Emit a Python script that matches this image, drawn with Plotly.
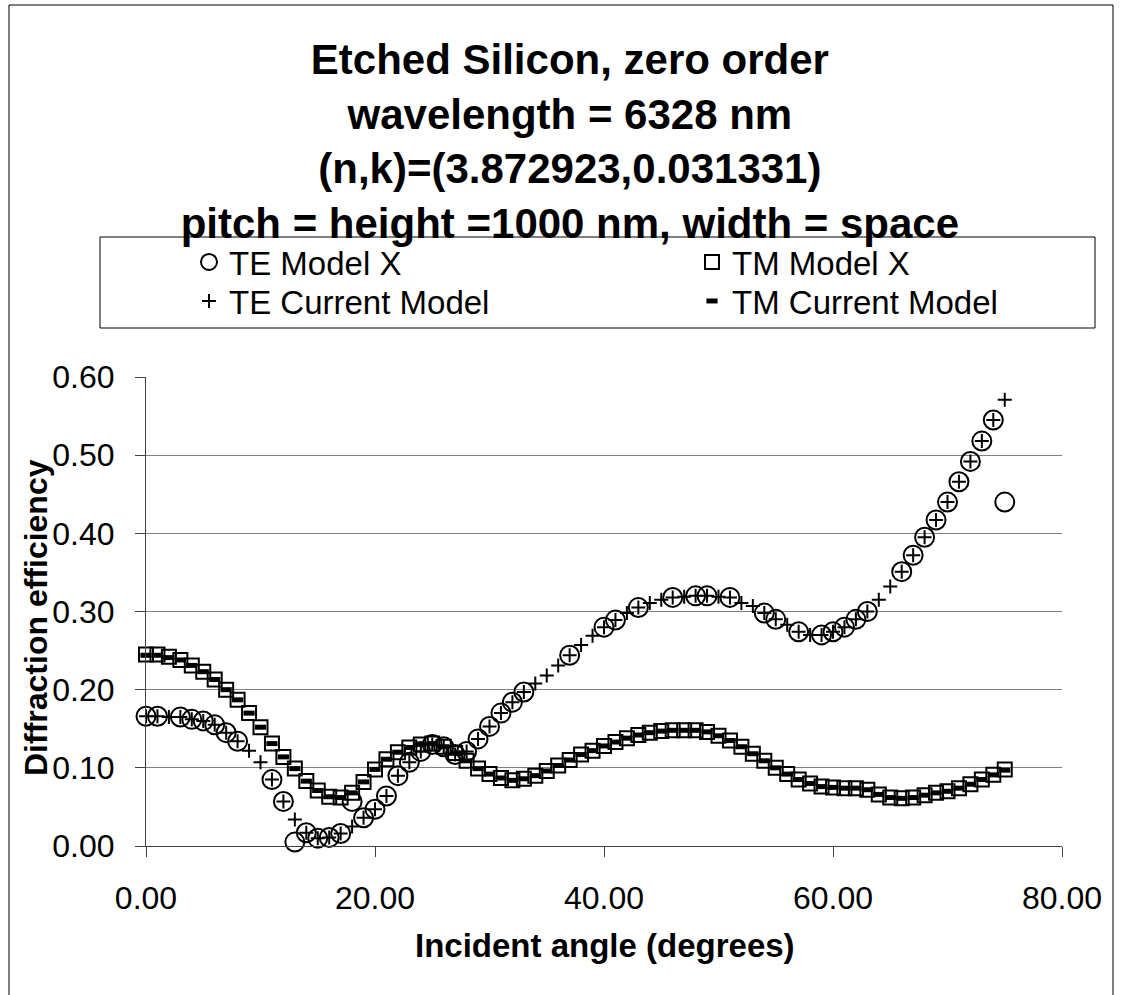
import plotly.graph_objects as go

# ---------------- data ----------------
angles = [0, 1, 2, 3, 4, 5, 6, 7, 8, 9, 10, 11, 12, 13, 14, 15, 16, 17, 18, 19,
          20, 21, 22, 23, 24, 25, 26, 27, 28, 29, 30, 31, 32, 33, 34, 35, 36, 37, 38, 39,
          40, 41, 42, 43, 44, 45, 46, 47, 48, 49, 50, 51, 52, 53, 54, 55, 56, 57, 58, 59,
          60, 61, 62, 63, 64, 65, 66, 67, 68, 69, 70, 71, 72, 73, 74, 75]

te_model_x = [0.166, 0.166, None, 0.165, 0.162, 0.160, 0.155, 0.145, 0.134, None,
              None, 0.085, 0.057, 0.005, 0.017, 0.010, 0.011, 0.016, 0.057, 0.036,
              0.047, 0.064, 0.090, 0.107, 0.121, 0.130, 0.127, 0.117, 0.121, 0.137,
              0.153, 0.170, 0.184, 0.197, None, None, None, 0.244, None, None,
              0.280, 0.289, None, 0.305, None, None, 0.318, None, 0.320, 0.320,
              None, 0.318, None, None, 0.298, 0.290, None, 0.274, None, 0.270,
              0.274, 0.280, 0.290, 0.300, None, None, 0.351, 0.372, 0.395, 0.417,
              0.440, 0.466, 0.492, 0.518, 0.545, 0.440]

te_current = [0.166, 0.166, 0.165, 0.165, 0.162, 0.160, 0.155, 0.145, 0.134, 0.122,
              0.107, 0.085, 0.057, 0.034, 0.017, 0.010, 0.011, 0.016, 0.025, 0.036,
              0.047, 0.064, 0.090, 0.107, 0.121, 0.130, 0.127, 0.117, 0.121, 0.137,
              0.153, 0.170, 0.184, 0.197, 0.208, 0.218, 0.231, 0.244, 0.257, 0.269,
              0.280, 0.289, 0.298, 0.305, 0.311, 0.315, 0.318, 0.319, 0.320, 0.320,
              0.319, 0.318, 0.311, 0.307, 0.298, 0.290, 0.283, 0.274, 0.270, 0.270,
              0.274, 0.280, 0.290, 0.300, 0.315, 0.332, 0.351, 0.372, 0.395, 0.417,
              0.440, 0.466, 0.492, 0.518, 0.545, 0.571]

tm_model_x = [0.245, 0.245, 0.242, 0.238, 0.231, 0.223, 0.213, 0.200, 0.187, 0.170,
              0.152, 0.131, 0.114, 0.099, 0.083, 0.071, 0.063, 0.062, 0.068, 0.082,
              0.098, 0.111, 0.120, 0.126, 0.130, 0.131, 0.127, 0.119, 0.109, 0.099,
              0.092, 0.087, 0.084, 0.086, 0.090, 0.096, 0.103, 0.110, 0.117, 0.122,
              0.128, 0.133, 0.138, 0.142, 0.145, 0.147, 0.148, 0.148, 0.148, 0.146,
              0.141, 0.135, 0.127, 0.118, 0.109, 0.100, 0.092, 0.085, 0.080, 0.076,
              0.075, 0.074, 0.074, 0.072, 0.066, 0.062, 0.061, 0.062, 0.065, 0.068,
              0.070, 0.074, 0.079, 0.085, 0.091, 0.098]

tm_current = [0.244, 0.244, 0.241, 0.238, 0.231, 0.223, 0.213, 0.200, 0.187, 0.170,
              0.152, 0.131, 0.114, 0.099, 0.083, 0.071, 0.063, 0.062, 0.068, 0.082,
              0.098, 0.111, 0.120, 0.126, 0.130, 0.131, 0.127, 0.119, 0.109, 0.099,
              0.092, 0.087, 0.084, 0.086, 0.090, 0.096, 0.103, 0.110, 0.117, 0.122,
              0.128, 0.133, 0.138, 0.142, 0.145, 0.147, 0.148, 0.148, 0.148, 0.146,
              0.141, 0.135, 0.127, 0.118, 0.109, 0.100, 0.092, 0.085, 0.080, 0.076,
              0.075, 0.074, 0.074, 0.072, 0.066, 0.062, 0.061, 0.062, 0.065, 0.068,
              0.070, 0.074, 0.079, 0.085, 0.091, 0.097]

x_ticks = [0, 20, 40, 60, 80]
x_tick_labels = ["0.00", "20.00", "40.00", "60.00", "80.00"]
y_ticks = [0.0, 0.1, 0.2, 0.3, 0.4, 0.5, 0.6]
y_tick_labels = ["0.00", "0.10", "0.20", "0.30", "0.40", "0.50", "0.60"]

title_lines = ["Etched Silicon, zero order", "wavelength = 6328 nm",
               "(n,k)=(3.872923,0.031331)", "pitch = height =1000 nm, width = space"]

# ---------------- figure ----------------
FONT = "Arial, 'Liberation Sans', sans-serif"
BLACK = "black"

fig = go.Figure()
fig.add_trace(go.Scatter(
    x=angles, y=te_model_x, mode="markers", name="TE Model X", legend="legend",
    showlegend=True,
    marker=dict(symbol="circle-open", size=19, color=BLACK, line=dict(width=2, color=BLACK)),
    cliponaxis=False))
fig.add_trace(go.Scatter(
    x=angles, y=tm_model_x, mode="markers", name="TM Model X", legend="legend2",
    showlegend=True,
    marker=dict(symbol="square-open", size=14, color=BLACK, line=dict(width=2, color=BLACK)),
    cliponaxis=False))
fig.add_trace(go.Scatter(
    x=angles, y=te_current, mode="markers", name="TE Current Model", legend="legend3",
    showlegend=True,
    marker=dict(symbol="cross-thin-open", size=10, color=BLACK, line=dict(width=2, color=BLACK)),
    cliponaxis=False))
fig.add_trace(go.Scatter(
    x=angles, y=tm_current, mode="markers", name="TM Current Model", legend="legend4",
    showlegend=True,
    marker=dict(symbol="line-ew-open", size=8, color=BLACK, line=dict(width=5, color=BLACK)),
    cliponaxis=False))

L, R, T, B = 146, 62, 377, 149
W, H = 1124, 995
pw, ph = W - L - R, H - T - B


def px_x(p):
    return (p - L) / pw


def px_y(p):
    return (H - B - p) / ph


def legend_box(left_px, top_px):
    return dict(x=px_x(left_px), y=px_y(top_px), xanchor="left", yanchor="top",
                bgcolor="rgba(0,0,0,0)", borderwidth=0, visible=True,
                font=dict(family=FONT, size=33, color=BLACK))


fig.update_layout(
    width=W, height=H,
    showlegend=True,
    margin=dict(l=L, r=R, t=T, b=B, pad=0),
    paper_bgcolor="white", plot_bgcolor="white",
    font=dict(family=FONT, color=BLACK, size=32),
    title=dict(text="<b>" + "<br>".join(title_lines) + "</b>",
               font=dict(family=FONT, size=42, color=BLACK),
               x=0.507, xref="container", xanchor="center",
               y=1 - 74 / H, yref="container", yanchor="top"),
    xaxis=dict(range=[0, 80], tickvals=x_ticks, ticktext=x_tick_labels,
               ticks="outside", ticklen=10, tickwidth=1, tickcolor="#404040",
               showline=True, linecolor="#404040", linewidth=1,
               showgrid=False, zeroline=False,
               tickfont=dict(family=FONT, size=32, color=BLACK),
               ticklabelstandoff=14),
    yaxis=dict(range=[0, 0.6], tickvals=y_ticks, ticktext=y_tick_labels,
               ticks="outside", ticklen=10, tickwidth=1, tickcolor="#404040",
               showline=True, linecolor="#404040", linewidth=1,
               showgrid=True, gridcolor="#808080", gridwidth=1, zeroline=False,
               tickfont=dict(family=FONT, size=32, color=BLACK),
               ticklabelstandoff=14),
    legend=legend_box(189, 234),
    legend2=legend_box(692, 234),
    legend3=legend_box(189, 273),
    legend4=legend_box(692, 273),
    shapes=[
        dict(type="rect", xref="paper", yref="paper",
             x0=px_x(9), x1=px_x(1113), y0=px_y(1010), y1=px_y(5),
             line=dict(color=BLACK, width=1), fillcolor="rgba(0,0,0,0)", layer="below"),
        dict(type="rect", xref="paper", yref="paper",
             x0=px_x(100), x1=px_x(1095), y0=px_y(328), y1=px_y(237),
             line=dict(color=BLACK, width=1), fillcolor="rgba(0,0,0,0)", layer="below"),
    ],
    annotations=[
        dict(text="<b>Incident angle (degrees)</b>", xref="paper", yref="paper",
             x=px_x(605), y=px_y(945), xanchor="center", yanchor="middle",
             showarrow=False, font=dict(family=FONT, size=33, color=BLACK)),
        dict(text="<b>Diffraction efficiency</b>", xref="paper", yref="paper",
             x=px_x(36), y=px_y(618), xanchor="center", yanchor="middle",
             textangle=-90, showarrow=False, font=dict(family=FONT, size=32, color=BLACK)),
    ],
)

fig.write_html("out.html")
